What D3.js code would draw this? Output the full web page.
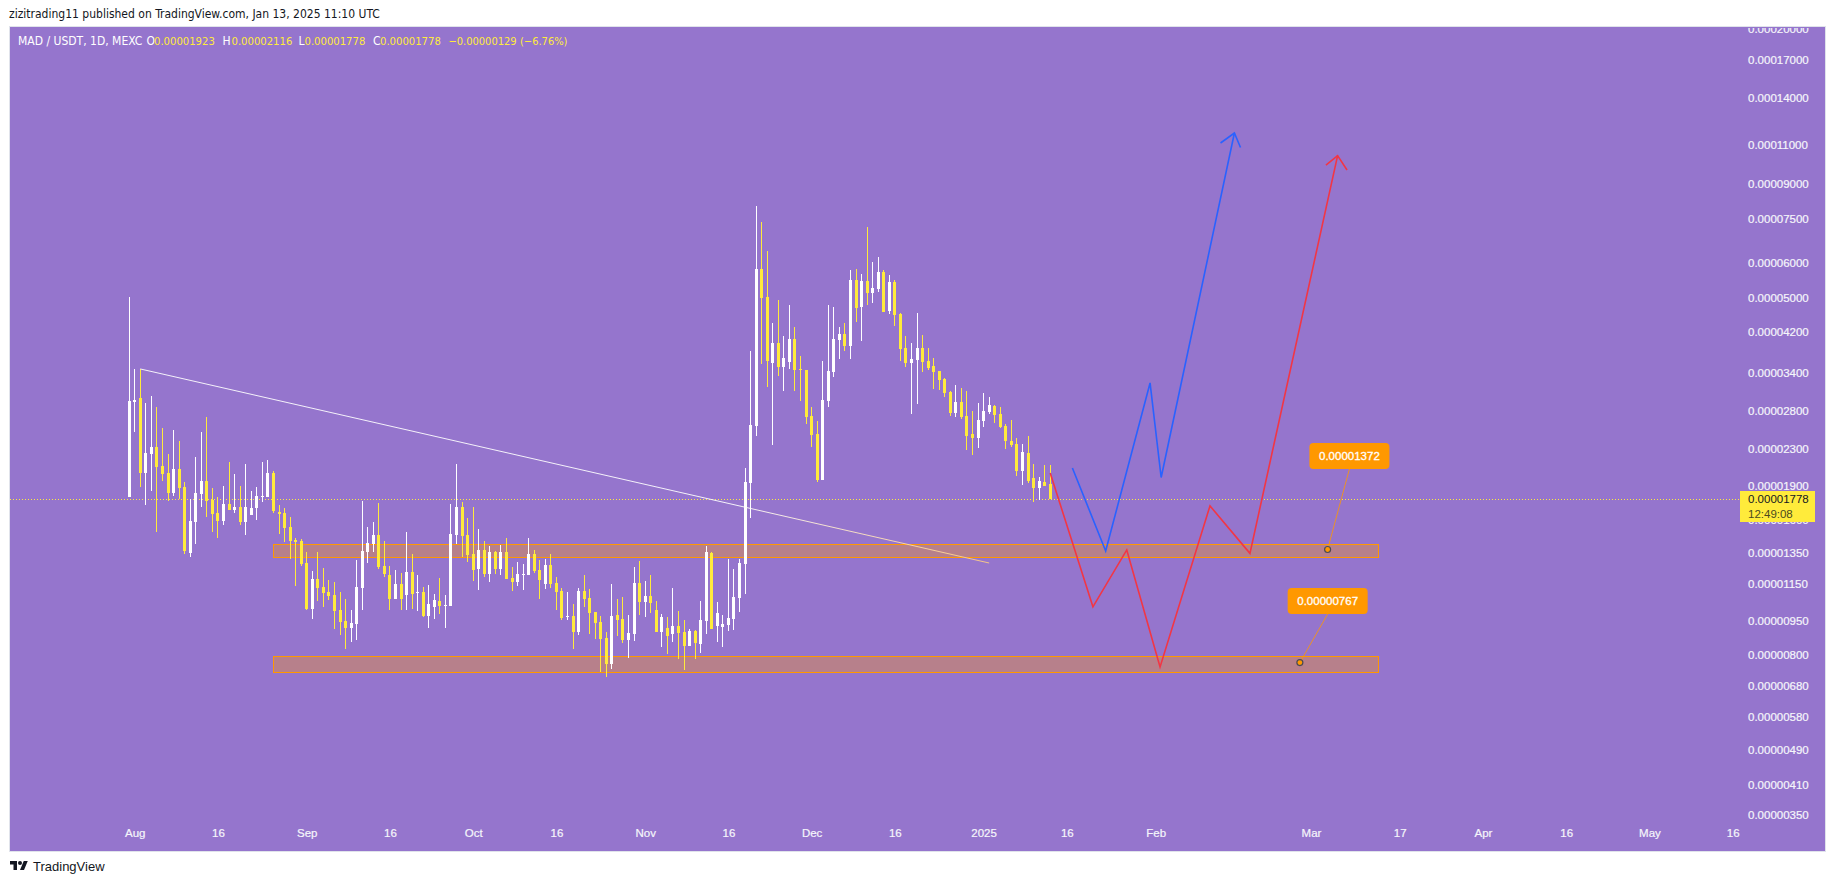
<!DOCTYPE html>
<html>
<head>
<meta charset="utf-8">
<title>MAD / USDT</title>
<script src="https://cdn.jsdelivr.net/npm/d3@7"></script>
<style>
  html, body { margin: 0; padding: 0; background: #fff; overflow: hidden; }
  svg { display: block; }
  text { font-family: "Liberation Sans", Arial, sans-serif; }
</style>
</head>
<body>
<svg id="chart" width="1835" height="883"></svg>
<script>
// all prices are in units of 0.00000001 USDT, candle 0 is Jul 31 2024
const opens = [
  1798,2930,2990,2033,2242,2325,2108,2033,1835,2076,
  1893,1348,1581,1826,1952,1770,1655,1589,1734,1681,
  1707,1581,1638,1699,1798,1798,2033,1664,1655,1541,
  1441,1434,1280,1011,1179,1132,1104,1087,1006,950,
  917,936,1126,1355,1412,1479,1261,1204,1065,1149,
  1087,1222,1098,1104,975,1022,1054,1027,1027,1479,
  1707,1479,1341,1241,1369,1210,1355,1241,1355,1185,
  1161,1204,1204,1341,1235,1149,1267,1155,1109,970,
  975,898,1109,1070,996,945,870,762,980,960,
  862,889,1155,1048,1081,1006,898,917,889,926,
  898,836,902,844,950,1348,926,921,931,960,
  1070,1274,1932,2590,5805,5027,3580,3968,3508,3599,
  4050,3472,3454,2727,2485,1962,2945,3419,4030,4156,
  3908,5486,4775,5458,5131,5238,5716,4678,5430,4606,
  3867,3580,3636,3867,3617,3526,3436,3298,3084,2769,
  2930,2727,2485,2435,2657,2783,2870,2755,2590,2398,
  2361,2054,2254,1982,1883,1942,1923
];
const highs = [
  5027,3472,3472,2915,3021,2855,2563,2242,2537,2398,
  1942,1780,2208,2511,2713,1883,1798,1902,2152,2023,
  1902,2130,1854,1893,2152,2174,2054,1725,1699,1622,
  1456,1448,1355,1229,1355,1248,1173,1161,1104,1065,
  1006,1300,1761,1541,1581,1743,1434,1261,1235,1216,
  1501,1341,1204,1132,1143,1092,1185,1087,1734,2130,
  1752,1613,1707,1525,1434,1397,1362,1404,1456,1254,
  1287,1274,1456,1369,1300,1307,1341,1191,1126,1104,
  1037,1126,1204,1120,996,975,898,1149,1065,1076,
  980,1254,1293,1167,1204,1054,985,970,1126,1001,
  955,912,907,1054,1397,1355,1048,980,1307,1241,
  1307,2086,3808,8026,7392,6368,4398,4950,4113,4824,
  4308,3712,3454,2855,2657,3617,4824,4775,4308,4398,
  5775,5805,5657,7204,6018,6175,5775,5628,5486,4630,
  4113,3968,4630,4134,3867,3674,3436,3315,3100,3198,
  3149,3100,2798,2915,3068,3006,2885,2855,2617,2671,
  2435,2361,2460,2130,1992,2119,2116
];
const lows = [
  1798,2511,1893,1725,1854,1501,1952,1761,1807,1780,
  1341,1321,1412,1707,1622,1501,1456,1556,1681,1655,
  1556,1479,1638,1597,1752,1798,1655,1486,1426,1307,
  1137,1261,1006,960,1054,1022,1059,912,884,823,
  853,862,1006,1280,1355,1241,1191,1006,1065,1006,
  1006,1011,1001,970,917,960,985,917,1027,1412,
  1321,1287,1167,1115,1191,1161,1210,1204,1179,1109,
  1137,1115,1204,1216,1065,1120,1126,1006,955,955,
  823,884,1022,889,866,731,713,743,879,849,
  786,858,980,970,991,898,832,802,853,782,
  739,836,782,806,889,912,853,832,902,907,
  996,1092,1613,2460,3562,3165,2349,3349,3100,3472,
  3100,2945,2617,2325,1942,1962,2855,3332,3655,3808,
  3655,4420,4009,4824,4874,5158,4654,4606,4330,3617,
  3508,2755,2900,3419,3454,3133,3116,3006,2727,2713,
  2685,2289,2231,2313,2577,2755,2630,2563,2301,2325,
  2002,1912,1932,1752,1770,1902,1778
];
const closes = [
  2945,2960,2033,2254,2325,2097,2023,1835,2076,1883,
  1362,1589,1835,1952,1761,1647,1589,1734,1681,1707,
  1581,1707,1699,1807,1807,2033,1672,1647,1533,1434,
  1426,1274,1011,1179,1126,1098,1081,1001,945,917,
  940,1132,1362,1419,1479,1254,1210,1065,1149,1065,
  1222,1092,1104,975,1037,1059,1027,1032,1486,1707,
  1471,1334,1235,1369,1210,1355,1241,1355,1179,1161,
  1210,1210,1341,1229,1173,1267,1149,1104,965,975,
  898,1109,1065,991,940,866,762,975,955,862,
  893,1155,1048,1081,1043,898,970,879,926,893,
  836,902,849,955,1355,912,991,936,965,1076,
  1280,1942,2603,5805,5001,3617,3968,3508,3674,4050,
  3454,3454,2713,2473,1962,2960,3436,4050,4156,3908,
  5486,4750,5458,5131,5265,5716,4654,5430,4583,3848,
  3580,3655,3867,3599,3489,3419,3281,3068,2769,2930,
  2713,2460,2435,2671,2798,2885,2741,2577,2398,2349,
  2054,2266,1952,1883,1952,1902,1778
];

// axes
const priceTicks = [20000,17000,14000,11000,9000,7500,6000,5000,4200,3400,2800,2300,1900,1600,1350,1150,950,800,680,580,490,410,350];
const timeTickDays = [1,16,32,47,62,77,93,108,123,138,154,169,185,213,229,244,259,274,289];
const timeTickLabels = ['Aug','16','Sep','16','Oct','16','Nov','16','Dec','16','2025','16','Feb','Mar','17','Apr','16','May','16'];

// drawings (day index, price)
const trendDays = [2, 155];
const trendPrices = [3472, 1280];
const blueDays = [170, 176, 184, 186, 199.2];
const bluePrices = [2086, 1362, 3231, 1987, 11680];
const blueHeadDays = [196.7, 199.2, 200.3];
const blueHeadPrices = [11094, 11680, 10841];
const redDays = [166, 173.7, 179.8, 185.8, 194.8, 202, 217.8];
const redPrices = [2033, 1022, 1369, 750, 1717, 1345, 10399];
const redHeadDays = [215.7, 217.8, 219.5];
const redHeadPrices = [9907, 10399, 9657];
const zoneStartDay = 26, zoneEndDay = 225.2;
const zoneTops = [1410, 794];
const zoneBottoms = [1317, 733];
const calloutDays = [216, 211];
const calloutPrices = [1372, 767];
const lastPrice = 1778;

const fmt = v => (v / 1e8).toFixed(8);

const bg = '#9575cd', upColor = '#ffffff', downColor = '#ffeb3b', orange = '#ff9800';

const svg = d3.select('#chart');
const x = d3.scaleLinear().domain([0, 166]).range([129.2, 1050.2]);
const y = d3.scaleLog().domain([17000, 350]).range([60, 815.2]);

svg.append('defs').append('clipPath').attr('id', 'pane')
  .append('rect').attr('x', 10).attr('y', 28).attr('width', 1815).attr('height', 823);

const grad = svg.select('defs').append('linearGradient').attr('id', 'trendGrad')
  .attr('gradientUnits', 'userSpaceOnUse')
  .attr('x1', x(trendDays[0])).attr('y1', y(trendPrices[0]))
  .attr('x2', x(trendDays[1])).attr('y2', y(trendPrices[1]));
grad.append('stop').attr('offset', '0%').attr('stop-color', '#ffffff');
grad.append('stop').attr('offset', '70%').attr('stop-color', '#ffffff');
grad.append('stop').attr('offset', '100%').attr('stop-color', '#ffcc80');

// pane
svg.append('rect').attr('x', 9.5).attr('y', 26.5).attr('width', 1816).attr('height', 825)
  .attr('fill', bg).attr('stroke', '#e0e3eb');

// header
svg.append('text').attr('x', 9).attr('y', 18)
  .attr('font-size', 12).attr('fill', '#131722')
  .style('font-family', '"DejaVu Sans Condensed", "Noto Sans", sans-serif')
  .text('zizitrading11 published on TradingView.com, Jan 13, 2025 11:10 UTC');

// zones
const zones = svg.append('g');
zoneTops.forEach((top, i) => {
  zones.append('rect')
    .attr('x', Math.round(x(zoneStartDay)) + 0.5)
    .attr('y', Math.round(y(top)) + 0.5)
    .attr('width', Math.round(x(zoneEndDay) - x(zoneStartDay)))
    .attr('height', Math.round(y(zoneBottoms[i]) - y(top)))
    .attr('fill', orange).attr('fill-opacity', 0.32)
    .attr('stroke', orange).attr('stroke-width', 1);
});

// last price line
svg.append('line')
  .attr('x1', 10).attr('x2', 1740)
  .attr('y1', Math.round(y(lastPrice)) + 0.5).attr('y2', Math.round(y(lastPrice)) + 0.5)
  .attr('stroke', downColor).attr('stroke-dasharray', '1 2');

// candles
const days = d3.range(opens.length);
const candles = svg.append('g').attr('shape-rendering', 'crispEdges');
candles.selectAll('rect.wick').data(days).enter().append('rect')
  .attr('class', 'wick')
  .attr('x', d => Math.floor(x(d)))
  .attr('width', 1)
  .attr('y', d => Math.round(y(highs[d])))
  .attr('height', d => Math.max(1, Math.round(y(lows[d])) - Math.round(y(highs[d]))))
  .attr('fill', d => closes[d] >= opens[d] ? upColor : downColor);
candles.selectAll('rect.body').data(days).enter().append('rect')
  .attr('class', 'body')
  .attr('x', d => Math.floor(x(d)) - 1)
  .attr('width', 3)
  .attr('y', d => Math.round(y(Math.max(opens[d], closes[d]))))
  .attr('height', d => Math.max(1, Math.round(y(Math.min(opens[d], closes[d]))) - Math.round(y(Math.max(opens[d], closes[d])))))
  .attr('fill', d => closes[d] >= opens[d] ? upColor : downColor);

// trend line + forecast paths
const pathLine = d3.line().x(p => x(p[0])).y(p => y(p[1]));
const zipped = (a, b) => a.map((d, i) => [d, b[i]]);

svg.append('path').attr('d', pathLine(zipped(trendDays, trendPrices)))
  .attr('fill', 'none').attr('stroke', 'url(#trendGrad)').attr('stroke-width', 1)
  .attr('stroke-opacity', 0.9);

[[blueDays, bluePrices, '#2962ff'], [blueHeadDays, blueHeadPrices, '#2962ff'],
 [redDays, redPrices, '#f23645'], [redHeadDays, redHeadPrices, '#f23645']].forEach(s => {
  svg.append('path').attr('d', pathLine(zipped(s[0], s[1])))
    .attr('fill', 'none').attr('stroke', s[2]).attr('stroke-width', 1.6)
    .attr('stroke-linejoin', 'miter');
});

// callouts
const labelDx = [21.8, 27.8], labelDy = [-93.5, -61.5];
calloutDays.forEach((d, i) => {
  const ax = x(d), ay = y(calloutPrices[i]);
  const cx = ax + labelDx[i], cy = ay + labelDy[i];
  svg.append('line').attr('x1', ax).attr('y1', ay).attr('x2', cx).attr('y2', cy + 13)
    .attr('stroke', orange).attr('stroke-opacity', 0.8);
  svg.append('circle').attr('cx', ax).attr('cy', ay).attr('r', 3)
    .attr('fill', orange).attr('stroke', '#4a4a55').attr('stroke-width', 1.2);
  svg.append('rect').attr('x', cx - 40).attr('y', cy - 13).attr('width', 80).attr('height', 26).attr('rx', 4)
    .attr('fill', orange);
  svg.append('text').attr('x', cx).attr('y', cy + 4.2).attr('text-anchor', 'middle')
    .attr('font-size', 11.5).attr('fill', '#fff').attr('stroke', '#fff').attr('stroke-width', 0.3)
    .text(fmt(calloutPrices[i]));
});

// price axis
const yAxis = svg.append('g')
  .attr('clip-path', 'url(#pane)')
  .append('g')
  .attr('transform', 'translate(1748,0)')
  .call(d3.axisRight(y).tickValues(priceTicks).tickFormat(fmt).tickSize(0).tickPadding(0));
yAxis.select('.domain').remove();
yAxis.selectAll('text').attr('font-size', 11.5).attr('fill', '#f5f6fb')
  .attr('stroke', '#f5f6fb').attr('stroke-width', 0.2)
  .style('font-family', '"Liberation Sans", Arial, sans-serif');

// time axis
const xAxis = svg.append('g')
  .attr('transform', 'translate(0,829)')
  .call(d3.axisBottom(x).tickValues(timeTickDays)
    .tickFormat((d, i) => timeTickLabels[i]).tickSize(0).tickPadding(0));
xAxis.select('.domain').remove();
xAxis.selectAll('text').attr('font-size', 11.5).attr('fill', '#f5f6fb')
  .attr('stroke', '#f5f6fb').attr('stroke-width', 0.2)
  .style('font-family', '"Liberation Sans", Arial, sans-serif');

// last price tag
const tagY = Math.round(y(lastPrice));
svg.append('rect').attr('x', 1740).attr('y', tagY - 8).attr('width', 75).attr('height', 31).attr('fill', downColor);
svg.append('text').attr('x', 1748).attr('y', tagY + 4).attr('font-size', 11.5).attr('fill', '#131722').text(fmt(lastPrice));
svg.append('text').attr('x', 1748).attr('y', tagY + 19).attr('font-size', 11.5).attr('fill', '#4a4a20').text('12:49:08');

// legend line
const legendParts = [
  [18, 'MAD / USDT, 1D, MEXC', 12, '#ffffff'],
  [146.5, 'O', 12, '#ffffff'], [154, '0.00001923', 11.2, downColor],
  [222.5, 'H', 12, '#ffffff'], [231.5, '0.00002116', 11.2, downColor],
  [298.5, 'L', 12, '#ffffff'], [304.5, '0.00001778', 11.2, downColor],
  [373, 'C', 12, '#ffffff'], [380, '0.00001778', 11.2, downColor],
  [448.5, '\u22120.00000129', 11, downColor], [520, '(\u22126.76%)', 11, downColor]
];
legendParts.forEach(p => {
  svg.append('text').attr('x', p[0]).attr('y', 45)
    .attr('font-size', p[2]).attr('fill', p[3])
    .style('font-family', '"DejaVu Sans Condensed", "Noto Sans", sans-serif')
    .text(p[1]);
});

// footer logo
svg.append('path').attr('transform', 'translate(10,859) scale(0.5)')
  .attr('d', 'M14 22H7V11H0V4h14v18zM28 22h-8l7.5-18h8L28 22z').attr('fill', '#131722');
svg.append('circle').attr('cx', 20).attr('cy', 863).attr('r', 2).attr('fill', '#131722');
svg.append('text').attr('x', 33).attr('y', 871).attr('font-size', 13).attr('fill', '#131722')
  .style('font-family', '"Liberation Sans", Arial, sans-serif').text('TradingView');
</script>
</body>
</html>
